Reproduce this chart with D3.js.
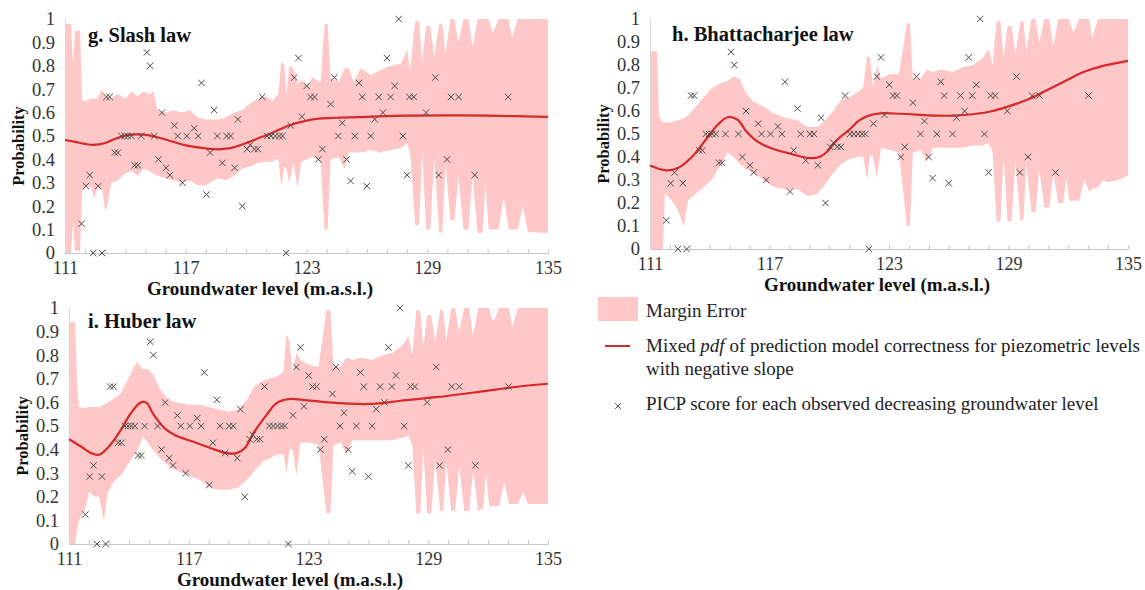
<!DOCTYPE html>
<html>
<head>
<meta charset="utf-8">
<script src="https://cdn.jsdelivr.net/npm/d3@7"></script>
<style>
  html, body { margin: 0; padding: 0; background: #fff; }
  svg { display: block; font-family: "Liberation Serif", "Times New Roman", serif; }
</style>
</head>
<body>
<svg id="chart" width="1145" height="590"></svg>
<script>
const xTicks = [111, 117, 123, 129, 135];
const yTicks = [0, 0.1, 0.2, 0.3, 0.4, 0.5, 0.6, 0.7, 0.8, 0.9, 1];

// PICP scores (same observations in every panel)
const picpX = [111.82, 112.04, 112.23, 112.4, 112.65, 112.84, 113.06, 113.22, 113.47, 113.63,
  113.8, 113.96, 114.12, 114.3, 114.46, 114.62, 114.79, 115.07, 115.23, 115.44,
  115.64, 115.82, 116.02, 116.21, 116.43, 116.6, 116.84, 117.05, 117.42, 117.62,
  117.78, 118.03, 118.21, 118.41, 118.57, 118.82, 119.03, 119.23, 119.43, 119.59,
  119.81, 120.05, 120.21, 120.41, 120.58, 120.8, 121.04, 121.24, 121.45, 121.65,
  121.81, 121.99, 122.22, 122.39, 122.6, 122.77, 123.01, 123.2, 123.4, 123.59,
  123.79, 124.2, 124.38, 124.58, 124.78, 124.99, 125.19, 125.4, 125.6, 125.77,
  126.0, 126.19, 126.39, 126.59, 126.8, 127.0, 127.18, 127.38, 127.58, 127.79,
  128.0, 128.11, 128.33, 128.94, 129.4, 129.57, 129.98, 130.18, 130.56, 131.36, 133.02];
const picpY = [0.125, 0.286, 0.333, 0, 0.286, 0, 0.667, 0.667, 0.429, 0.429,
  0.5, 0.5, 0.5, 0.5, 0.375, 0.375, 0.5, 0.857, 0.8, 0.5,
  0.4, 0.6, 0.364, 0.333, 0.545, 0.5, 0.3, 0.5, 0.533, 0.5,
  0.727, 0.25, 0.429, 0.611, 0.5, 0.385, 0.5, 0.5, 0.364, 0.571,
  0.2, 0.444, 0.462, 0.444, 0.444, 0.667, 0.5, 0.5, 0.5, 0.5,
  0.5, 0, 0.545, 0.75, 0.833, 0.583, 0.714, 0.667, 0.667, 0.4,
  0.444, 0.636, 0.75, 0.5, 0.556, 0.4, 0.308, 0.5, 0.727, 0.667,
  0.286, 0.5, 0.571, 0.667, 0.6, 0.833, 0.667, 0.714, 1.0, 0.5,
  0.333, 0.667, 0.667, 0.6, 0.75, 0.333, 0.4, 0.667, 0.667, 0.333, 0.667];

// mixed pdf curves [x, p]
const slashCurve = [[111, 0.483], [111.5, 0.475], [112, 0.466], [112.4, 0.462], [113, 0.47], [113.5, 0.488],
  [114, 0.502], [114.6, 0.507], [115.2, 0.503], [116, 0.485], [117, 0.46], [118, 0.447], [118.6, 0.443],
  [119.2, 0.448], [120, 0.47], [120.6, 0.49], [121.2, 0.51], [122.2, 0.547], [123, 0.566], [123.5, 0.573],
  [124.5, 0.578], [126, 0.582], [128, 0.587], [130, 0.588], [132, 0.587], [135, 0.582]];
const bhattCurve = [[111, 0.363], [111.8, 0.342], [112.4, 0.352], [113.1, 0.4], [113.8, 0.475], [114.4, 0.54],
  [114.9, 0.573], [115.4, 0.562], [115.85, 0.51], [116.4, 0.467], [117.1, 0.438], [118.05, 0.414], [119, 0.395],
  [119.5, 0.4], [119.9, 0.424], [120.4, 0.475], [121, 0.518], [121.5, 0.559], [122.1, 0.583], [122.6, 0.59],
  [123.55, 0.588], [125.4, 0.58], [126.3, 0.58], [127.2, 0.586], [128.1, 0.598], [129, 0.62], [130, 0.651],
  [130.9, 0.689], [131.8, 0.728], [132.7, 0.767], [133.6, 0.793], [135, 0.818]];
const huberCurve = [[111, 0.444], [111.6, 0.413], [112.1, 0.385], [112.5, 0.378], [113, 0.413], [113.6, 0.484],
  [114.1, 0.554], [114.6, 0.6], [114.9, 0.597], [115.2, 0.554], [115.8, 0.49], [116.3, 0.462], [117.2, 0.434],
  [118.1, 0.406], [118.9, 0.385], [119.4, 0.385], [119.8, 0.406], [120.3, 0.477], [120.9, 0.547], [121.4, 0.597],
  [122, 0.614], [122.7, 0.611], [124, 0.6], [125.8, 0.593], [126.7, 0.597], [127.6, 0.607], [129.4, 0.622],
  [131.3, 0.642], [133.1, 0.663], [135, 0.679]];

// margin error bands [x, lower, upper]
const slashBand = [[111, 0, 0.98], [111.3, 0, 0.98], [111.4, 0.13, 0.8], [111.5, 0.01, 0.95], [111.75, 0.01, 0.95],
  [111.85, 0.27, 0.65], [112, 0.29, 0.65], [112.3, 0.28, 0.66], [112.45, 0.23, 0.66], [112.6, 0.28, 0.66],
  [112.85, 0.27, 0.7], [113, 0.18, 0.66], [113.1, 0.2, 0.67], [113.3, 0.3, 0.66], [113.6, 0.31, 0.68],
  [114, 0.34, 0.66], [114.3, 0.35, 0.69], [114.6, 0.33, 0.67], [114.9, 0.36, 0.69], [115.2, 0.35, 0.68],
  [115.4, 0.34, 0.69], [115.6, 0.33, 0.61], [116, 0.32, 0.6], [116.4, 0.31, 0.61], [116.8, 0.3, 0.6],
  [117.2, 0.31, 0.61], [117.6, 0.29, 0.58], [118, 0.29, 0.57], [118.6, 0.32, 0.57], [119, 0.31, 0.58],
  [119.4, 0.33, 0.6], [119.8, 0.36, 0.61], [120.2, 0.37, 0.64], [120.6, 0.385, 0.66], [121, 0.39, 0.67],
  [121.3, 0.39, 0.65], [121.6, 0.405, 0.68], [121.75, 0.28, 0.82], [121.9, 0.37, 0.8], [122, 0.36, 0.68],
  [122.15, 0.3, 0.8], [122.35, 0.385, 0.79], [122.55, 0.28, 0.72], [122.75, 0.39, 0.74], [123, 0.4, 0.71],
  [123.3, 0.41, 0.75], [123.7, 0.39, 0.73], [123.9, 0.1, 0.98], [124.05, 0.1, 0.98], [124.2, 0.4, 0.75],
  [124.6, 0.41, 0.73], [124.9, 0.36, 0.79], [125.1, 0.43, 0.79], [125.35, 0.43, 0.73], [125.7, 0.43, 0.79],
  [126.2, 0.44, 0.76], [126.6, 0.43, 0.78], [127.2, 0.44, 0.8], [127.7, 0.45, 0.81], [128, 0.47, 0.87],
  [128.15, 0.43, 0.78], [128.4, 0.12, 0.99], [128.6, 0.12, 0.99], [128.75, 0.43, 0.82], [128.95, 0.1, 0.97],
  [129.15, 0.1, 0.97], [129.35, 0.41, 0.84], [129.6, 0.085, 0.98], [129.75, 0.09, 0.98], [129.9, 0.385, 0.85],
  [130.15, 0.14, 1], [130.35, 0.14, 1], [130.55, 0.33, 0.9], [130.8, 0.1, 1], [131.05, 0.1, 1],
  [131.25, 0.33, 0.88], [131.5, 0.085, 1], [131.75, 0.085, 1], [131.9, 0.3, 1], [132.05, 0.1, 1],
  [132.25, 0.1, 0.94], [132.55, 0.1, 1], [132.8, 0.24, 1], [133.05, 0.1, 1], [133.2, 0.1, 0.92],
  [133.5, 0.1, 1], [133.75, 0.2, 1], [134, 0.09, 1], [135, 0.085, 1]];
const bhattBand = [[111, 0, 0.86], [111.35, 0, 0.86], [111.45, 0, 0.58], [111.65, 0, 0.55], [111.75, 0.24, 0.55],
  [112, 0.22, 0.55], [112.4, 0.17, 0.56], [112.7, 0.1, 0.57], [112.9, 0.21, 0.58], [113.3, 0.24, 0.62],
  [113.7, 0.27, 0.66], [114.1, 0.3, 0.7], [114.5, 0.36, 0.72], [114.9, 0.42, 0.73], [115.2, 0.4, 0.75],
  [115.5, 0.37, 0.74], [115.8, 0.35, 0.68], [116.2, 0.33, 0.64], [116.7, 0.3, 0.62], [117.2, 0.27, 0.59],
  [117.8, 0.26, 0.57], [118.4, 0.26, 0.56], [118.9, 0.23, 0.53], [119.4, 0.24, 0.53], [119.8, 0.28, 0.56],
  [120.2, 0.33, 0.6], [120.6, 0.37, 0.65], [121, 0.39, 0.66], [121.4, 0.4, 0.68], [121.7, 0.4, 0.7],
  [121.9, 0.3, 0.84], [122.05, 0.41, 0.83], [122.2, 0.4, 0.7], [122.4, 0.31, 0.8], [122.6, 0.44, 0.74],
  [123, 0.43, 0.76], [123.5, 0.42, 0.76], [123.9, 0.1, 0.98], [124.05, 0.1, 0.98], [124.2, 0.42, 0.74],
  [124.6, 0.43, 0.74], [124.9, 0.38, 0.78], [125.2, 0.44, 0.77], [125.6, 0.44, 0.78], [126.2, 0.44, 0.77],
  [126.7, 0.44, 0.79], [127.2, 0.45, 0.8], [127.7, 0.45, 0.83], [128, 0.46, 0.87], [128.2, 0.42, 0.8],
  [128.4, 0.12, 0.99], [128.6, 0.12, 0.99], [128.75, 0.4, 0.83], [128.95, 0.12, 0.97], [129.15, 0.12, 0.97],
  [129.35, 0.38, 0.85], [129.6, 0.12, 0.99], [129.75, 0.13, 0.99], [129.9, 0.37, 0.86], [130.15, 0.16, 1],
  [130.35, 0.16, 1], [130.55, 0.34, 0.9], [130.8, 0.18, 1], [131.05, 0.18, 1], [131.25, 0.33, 0.88],
  [131.5, 0.2, 1], [131.75, 0.2, 1], [131.9, 0.31, 1], [132.05, 0.21, 1], [132.25, 0.21, 0.94],
  [132.55, 0.21, 1], [132.8, 0.3, 1], [133.05, 0.25, 1], [133.2, 0.26, 0.92], [133.5, 0.27, 1],
  [133.75, 0.3, 1], [134, 0.29, 1], [134.5, 0.3, 1], [135, 0.32, 1]];
const huberBand = [[111, 0, 0.94], [111.3, 0, 0.94], [111.4, 0.06, 0.7], [111.5, 0.1, 0.58], [111.8, 0.145, 0.575],
  [112, 0.22, 0.58], [112.3, 0.2, 0.58], [112.5, 0.2, 0.58], [112.75, 0.1, 0.59], [112.95, 0.22, 0.6],
  [113.3, 0.27, 0.62], [113.6, 0.29, 0.64], [113.9, 0.33, 0.69], [114.2, 0.37, 0.74], [114.4, 0.39, 0.77],
  [114.7, 0.455, 0.74], [114.95, 0.43, 0.74], [115.2, 0.4, 0.72], [115.6, 0.36, 0.65], [116, 0.33, 0.61],
  [116.4, 0.31, 0.6], [117, 0.29, 0.59], [117.6, 0.27, 0.59], [118, 0.24, 0.58], [118.5, 0.23, 0.57],
  [119, 0.23, 0.56], [119.5, 0.24, 0.57], [119.9, 0.27, 0.61], [120.3, 0.31, 0.67], [120.7, 0.35, 0.69],
  [121, 0.36, 0.7], [121.4, 0.38, 0.71], [121.75, 0.38, 0.73], [121.9, 0.3, 0.89], [122.05, 0.4, 0.86],
  [122.2, 0.4, 0.72], [122.4, 0.29, 0.81], [122.6, 0.43, 0.78], [123, 0.43, 0.76], [123.5, 0.42, 0.75],
  [123.9, 0.13, 0.99], [124.1, 0.13, 0.99], [124.25, 0.42, 0.75], [124.6, 0.43, 0.75], [124.9, 0.38, 0.79],
  [125.2, 0.44, 0.78], [125.6, 0.44, 0.79], [126.2, 0.44, 0.78], [126.7, 0.44, 0.8], [127.2, 0.44, 0.81],
  [127.7, 0.45, 0.84], [128, 0.46, 0.88], [128.2, 0.42, 0.8], [128.4, 0.13, 0.99], [128.6, 0.13, 0.99],
  [128.75, 0.4, 0.83], [128.95, 0.13, 0.97], [129.15, 0.13, 0.97], [129.35, 0.36, 0.86], [129.6, 0.14, 0.99],
  [129.75, 0.14, 0.99], [129.9, 0.35, 0.86], [130.15, 0.14, 1], [130.35, 0.14, 1], [130.55, 0.33, 0.9],
  [130.8, 0.14, 1], [131.05, 0.14, 1], [131.25, 0.31, 0.88], [131.5, 0.14, 1], [131.75, 0.15, 1],
  [131.9, 0.3, 1], [132.05, 0.16, 1], [132.25, 0.16, 0.94], [132.55, 0.16, 1], [132.8, 0.26, 1],
  [133.05, 0.17, 1], [133.2, 0.17, 0.92], [133.5, 0.17, 1], [133.75, 0.22, 1], [134, 0.17, 1], [135, 0.17, 1]];

const bandColor = "#ffc8c8";
const lineColor = "#d7282a";
const markColor = "#4a4a4a";
const serif = "Liberation Serif, Times New Roman, serif";

const svg = d3.select("#chart");

const panels = [
  { title: "g. Slash law", titleX: 88, titleY: 42, x0: 65, x1: 548, yTop: 19, yBot: 253,
    labelX: 260, curve: slashCurve, band: slashBand },
  { title: "h. Bhattacharjee law", titleX: 672, titleY: 41, x0: 650, x1: 1128, yTop: 19, yBot: 249,
    labelX: 877, curve: bhattCurve, band: bhattBand },
  { title: "i. Huber law", titleX: 88, titleY: 328, x0: 69, x1: 548, yTop: 308, yBot: 544,
    labelX: 290, curve: huberCurve, band: huberBand }
];

function cross(g, x, y, r) {
  g.append("path")
    .attr("d", `M${x - r},${y - r}L${x + r},${y + r}M${x - r},${y + r}L${x + r},${y - r}`)
    .attr("stroke", markColor)
    .attr("stroke-width", 1)
    .attr("fill", "none");
}

panels.forEach(p => {
  const x = d3.scaleLinear().domain([111, 135]).range([p.x0, p.x1]);
  const y = d3.scaleLinear().domain([0, 1]).range([p.yBot, p.yTop]);
  const g = svg.append("g");

  const area = d3.area()
    .x(d => x(d[0]))
    .y0(d => y(d[1]))
    .y1(d => y(d[2]));
  g.append("path").datum(p.band).attr("d", area).attr("fill", bandColor);

  // axes
  const xAxis = d3.axisBottom(x).tickValues(d3.range(111, 136, 1)).tickSizeInner(-4).tickSizeOuter(0)
    .tickFormat(d => xTicks.includes(d) ? d : "");
  const ax = g.append("g").attr("transform", `translate(0,${p.yBot})`).call(xAxis)
    .attr("font-family", serif);
  ax.select(".domain").attr("stroke", "#c8c8c8");
  ax.selectAll(".tick line").attr("stroke", "#c8c8c8");
  ax.selectAll(".tick text").attr("font-size", 18).attr("fill", "#333").attr("y", 21).attr("dy", 0);

  const yAxis = d3.axisLeft(y).tickValues(yTicks).tickSize(0).tickPadding(10)
    .tickFormat(d => d3.format("~g")(d));
  const ay = g.append("g").attr("transform", `translate(${p.x0},0)`).call(yAxis)
    .attr("font-family", serif);
  ay.select(".domain").attr("stroke", "#d8d8d8");
  ay.selectAll(".tick text").attr("font-size", 18.5).attr("fill", "#333");

  // curve
  const line = d3.line().x(d => x(d[0])).y(d => y(d[1])).curve(d3.curveCatmullRom.alpha(0.5));
  g.append("path").datum(p.curve).attr("d", line)
    .attr("fill", "none").attr("stroke", lineColor).attr("stroke-width", 2.2);

  // PICP markers
  picpX.forEach((v, i) => cross(g, x(v), y(picpY[i]), 3.2));

  g.append("text").attr("x", p.titleX).attr("y", p.titleY)
    .attr("font-size", 20.5).attr("font-weight", "bold").attr("fill", "#111").text(p.title);

  g.append("text").attr("x", p.labelX).attr("y", p.yBot + 42)
    .attr("text-anchor", "middle").attr("font-size", 19).attr("font-weight", "bold").attr("fill", "#111")
    .text("Groundwater level (m.a.s.l.)");

  const cy = (p.yTop + p.yBot) / 2 + 10;
  g.append("text").attr("transform", `translate(${p.x0 - 41},${cy}) rotate(-90)`)
    .attr("text-anchor", "middle").attr("font-size", 16.5).attr("font-weight", "bold").attr("fill", "#111")
    .text("Probability");
});

// legend
const lg = svg.append("g").attr("font-size", 19).attr("fill", "#222");
lg.append("rect").attr("x", 598).attr("y", 297).attr("width", 40).attr("height", 24).attr("fill", bandColor);
lg.append("text").attr("x", 646).attr("y", 317).text("Margin Error");
lg.append("line").attr("x1", 605).attr("x2", 630).attr("y1", 346).attr("y2", 346)
  .attr("stroke", lineColor).attr("stroke-width", 2);
const t2 = lg.append("text").attr("x", 646).attr("y", 352);
t2.append("tspan").text("Mixed ");
t2.append("tspan").attr("font-style", "italic").text("pdf");
t2.append("tspan").text(" of prediction model correctness for piezometric levels");
lg.append("text").attr("x", 646).attr("y", 375).text("with negative slope");
cross(lg, 618, 406, 2.8);
lg.append("text").attr("x", 646).attr("y", 410).text("PICP score for each observed decreasing groundwater level");
</script>
</body>
</html>
